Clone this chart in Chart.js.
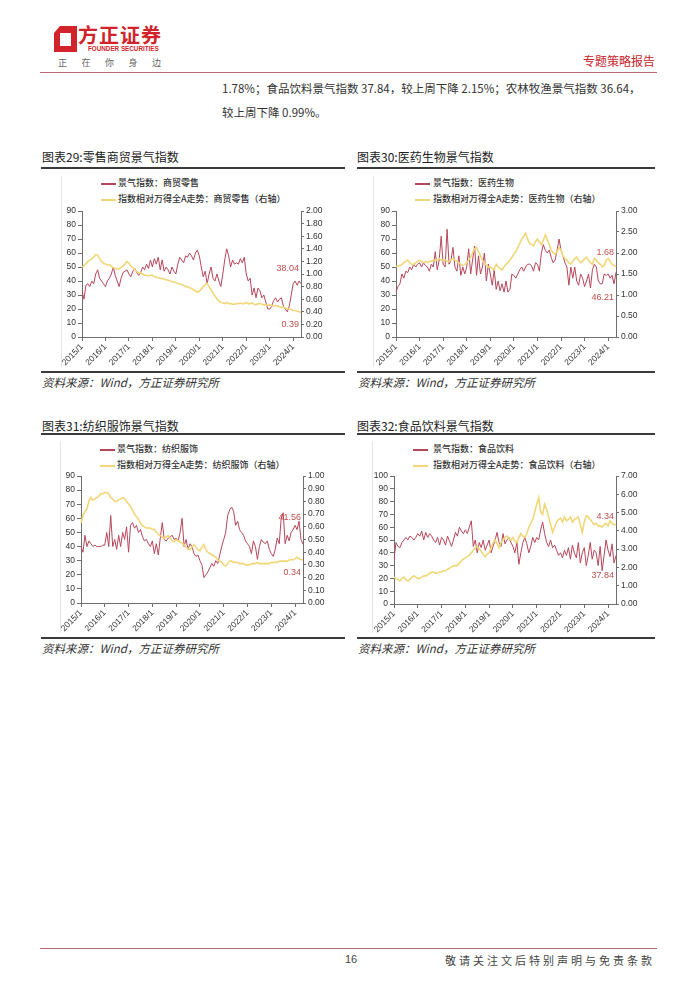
<!DOCTYPE html>
<html>
<head>
<meta charset="utf-8">
<script src="https://cdn.jsdelivr.net/npm/chart.js@4.4.1/dist/chart.umd.min.js"></script>
<style>
  body { margin:0; width:700px; height:990px; background:#fff; position:relative; overflow:hidden;
         font-family:"Noto Sans CJK SC","Noto Sans",sans-serif; color:#333; }
  .a { position:absolute; white-space:nowrap; }
  .hr { position:absolute; height:2px; background:#3a3a3a; }
  .title { font-size:12px; color:#222; line-height:16px; }
  .src { font-size:11.5px; font-style:italic; color:#333; line-height:16px; }
  .lg { font-size:9px; color:#333; line-height:12px; font-weight:500; }
  .lgline { position:absolute; width:15px; height:1.6px; }
  .vb { position:absolute; width:1px; background:#e4e4e4; }
  canvas { position:absolute; }
</style>
</head>
<body>

<!-- header -->
<svg class="a" style="left:54px;top:26px" width="24" height="27" viewBox="0 0 24 27">
  <path d="M6 0 H23 V26 H0 V7 Z" fill="#d2232a"/>
  <rect x="6" y="7" width="11" height="13" fill="#fff"/>
</svg>
<div class="a" style="left:78px;top:22px;font-size:20px;font-weight:700;color:#d2232a;letter-spacing:1px;line-height:26px">方正证券</div>
<div class="a" style="left:88px;top:45px;font-size:6.3px;font-weight:700;color:#d2232a;font-family:'Liberation Sans',Arial,sans-serif">FOUNDER SECURITIES</div>
<div class="a" style="left:58px;top:56px;font-size:9px;color:#666;letter-spacing:14.5px">正在你身边</div>
<div class="a" style="left:583px;top:52px;font-size:12px;color:#c8232c">专题策略报告</div>
<div class="a" style="left:40px;top:72px;width:617px;height:1px;background:#b86a74"></div>

<div class="a" style="left:222px;top:80px;font-size:11.5px;color:#333">1.78%；食品饮料景气指数 37.84，较上周下降 2.15%；农林牧渔景气指数 36.64，</div>
<div class="a" style="left:222px;top:104px;font-size:11.5px;color:#333">较上周下降 0.99%。</div>

<!-- panel 29 -->
<div class="a title" style="left:42px;top:149px">图表29:零售商贸景气指数</div>
<div class="hr" style="left:41px;top:167px;width:304px"></div>
<div class="vb" style="left:61px;top:176px;height:191px"></div>
<div class="lgline" style="left:101px;top:183px;background:#b6475b"></div>
<div class="a lg" style="left:118px;top:177px">景气指数：商贸零售</div>
<div class="lgline" style="left:101px;top:199px;background:#f1d779"></div>
<div class="a lg" style="left:118px;top:193px">指数相对万得全A走势：商贸零售（右轴）</div>
<canvas id="c29" width="303" height="167" style="left:42px;top:203px"></canvas>
<div class="hr" style="left:41px;top:371px;width:304px"></div>
<div class="a src" style="left:42px;top:374px">资料来源：Wind，方正证券研究所</div>

<!-- panel 30 -->
<div class="a title" style="left:357px;top:149px">图表30:医药生物景气指数</div>
<div class="hr" style="left:357px;top:167px;width:298px"></div>
<div class="vb" style="left:373px;top:176px;height:191px"></div>
<div class="lgline" style="left:415px;top:183px;background:#b6475b"></div>
<div class="a lg" style="left:433px;top:177px">景气指数：医药生物</div>
<div class="lgline" style="left:415px;top:199px;background:#f1d779"></div>
<div class="a lg" style="left:433px;top:193px">指数相对万得全A走势：医药生物（右轴）</div>
<canvas id="c30" width="298" height="167" style="left:357px;top:203px"></canvas>
<div class="hr" style="left:357px;top:371px;width:298px"></div>
<div class="a src" style="left:358px;top:374px">资料来源：Wind，方正证券研究所</div>

<!-- panel 31 -->
<div class="a title" style="left:42px;top:418px">图表31:纺织服饰景气指数</div>
<div class="hr" style="left:41px;top:433px;width:304px"></div>
<div class="vb" style="left:60px;top:441px;height:192px"></div>
<div class="lgline" style="left:100px;top:449px;background:#b6475b"></div>
<div class="a lg" style="left:117px;top:443px">景气指数：纺织服饰</div>
<div class="lgline" style="left:100px;top:465px;background:#f1d779"></div>
<div class="a lg" style="left:117px;top:459px">指数相对万得全A走势：纺织服饰（右轴）</div>
<canvas id="c31" width="303" height="167" style="left:42px;top:468px"></canvas>
<div class="hr" style="left:41px;top:637px;width:304px"></div>
<div class="a src" style="left:42px;top:640px">资料来源：Wind，方正证券研究所</div>

<!-- panel 32 -->
<div class="a title" style="left:357px;top:418px">图表32:食品饮料景气指数</div>
<div class="hr" style="left:357px;top:433px;width:298px"></div>
<div class="vb" style="left:372px;top:441px;height:192px"></div>
<div class="lgline" style="left:413px;top:449px;background:#b6475b"></div>
<div class="a lg" style="left:433px;top:443px">景气指数：食品饮料</div>
<div class="lgline" style="left:413px;top:465px;background:#f1d779"></div>
<div class="a lg" style="left:433px;top:459px">指数相对万得全A走势：食品饮料（右轴）</div>
<canvas id="c32" width="298" height="167" style="left:357px;top:468px"></canvas>
<div class="hr" style="left:357px;top:637px;width:298px"></div>
<div class="a src" style="left:358px;top:640px">资料来源：Wind，方正证券研究所</div>

<!-- footer -->
<div class="a" style="left:40px;top:948px;width:617px;height:1px;background:#b86a74"></div>
<div class="a" style="left:345px;top:953px;font-size:11px;color:#444;font-family:'Liberation Sans',Arial,sans-serif">16</div>
<div class="a" style="left:445px;top:952px;font-size:11px;color:#444;letter-spacing:3px">敬请关注文后特别声明与免责条款</div>

<script>
// monthly categories 2015/1 .. 2024/5
const months = [];
for (let y = 2015; y <= 2024; y++) {
  for (let m = 1; m <= 12; m++) {
    if (y < 2024 || m <= 5) months.push(y + '/' + m);
  }
}

// 零售商贸
const retailIdx = [
  33, 27, 37, 38, 36, 40, 38, 45, 48, 42, 40, 38,
  36, 40, 42, 45, 50, 44, 40, 36, 42, 46, 47, 48,
  45, 43, 47, 49, 46, 44, 46, 50, 48, 52, 49, 55,
  50, 56, 52, 57, 48, 55, 47, 50, 48, 45, 50, 47,
  45, 52, 57, 55, 53, 58, 57, 60, 58, 55, 60, 62,
  58, 50, 43, 47, 38, 45, 50, 42, 40, 45, 40, 36,
  45, 55, 63, 58, 50, 55, 52, 53, 52, 56, 53, 57,
  45, 40, 42, 30, 35, 28, 35, 33, 28, 30, 25, 20,
  20, 22, 26, 28, 25, 27, 28, 22, 20, 18, 22, 30,
  38, 40, 37, 40, 38.04
];
const retailRel = [
  1.11, 1.13, 1.16, 1.20, 1.22, 1.24, 1.27, 1.31, 1.30, 1.24, 1.20, 1.17,
  1.16, 1.14, 1.15, 1.12, 1.10, 1.09, 1.08, 1.08, 1.10, 1.13, 1.16, 1.20,
  1.17, 1.13, 1.10, 1.07, 1.04, 1.01, 1.02, 1.00, 0.98, 0.98, 0.97, 0.98,
  0.98, 0.96, 0.95, 0.94, 0.93, 0.93, 0.92, 0.91, 0.90, 0.89, 0.88, 0.87,
  0.87, 0.85, 0.84, 0.83, 0.82, 0.80, 0.80, 0.78, 0.77, 0.75, 0.73, 0.71,
  0.73, 0.76, 0.80, 0.83, 0.85, 0.80, 0.75, 0.70, 0.65, 0.61, 0.57, 0.55,
  0.54, 0.53, 0.55, 0.53, 0.53, 0.52, 0.52, 0.53, 0.53, 0.54, 0.53, 0.53,
  0.55, 0.53, 0.53, 0.54, 0.52, 0.51, 0.53, 0.53, 0.52, 0.51, 0.51, 0.50,
  0.51, 0.50, 0.49, 0.50, 0.49, 0.48, 0.47, 0.47, 0.46, 0.45, 0.44, 0.44,
  0.42, 0.42, 0.41, 0.40, 0.39
];

// 医药生物
const pharmaIdx = [
  32, 36, 38, 45, 42, 47, 46, 50, 48, 52, 50, 52,
  53, 50, 53, 51, 50, 47, 52, 50, 61, 48, 55, 72,
  52, 50, 77, 52, 55, 64, 50, 47, 58, 44, 50, 45,
  50, 63, 45, 55, 65, 44, 58, 45, 50, 60, 40, 52,
  45, 37, 48, 34, 40, 33, 38, 32, 40, 32, 34, 45,
  44, 42, 45, 48, 50, 47, 50, 52, 52, 51, 47, 53,
  52, 47, 60, 66, 62, 60, 62, 57, 53, 55, 62, 70,
  62, 58, 53, 50, 37, 50, 42, 50, 40, 37, 45, 42,
  36, 40, 45, 35, 48, 52, 50, 40, 38, 38, 45, 44,
  45, 42, 44, 38, 46.21
];
const pharmaRel = [
  1.67, 1.70, 1.70, 1.73, 1.77, 1.80, 1.83, 1.77, 1.73, 1.73, 1.77, 1.80,
  1.83, 1.80, 1.77, 1.80, 1.77, 1.80, 1.80, 1.83, 1.83, 1.83, 1.87, 1.83,
  1.83, 1.83, 1.80, 1.80, 1.83, 1.87, 1.83, 1.80, 1.77, 1.73, 1.70, 1.73,
  1.77, 1.83, 1.90, 2.00, 2.10, 2.13, 2.03, 1.93, 1.83, 1.77, 1.70, 1.67,
  1.67, 1.63, 1.60, 1.73, 1.67, 1.63, 1.60, 1.67, 1.73, 1.77, 1.83, 1.90,
  1.97, 2.03, 2.13, 2.23, 2.33, 2.40, 2.47, 2.33, 2.23, 2.20, 2.17, 2.27,
  2.33, 2.27, 2.20, 2.30, 2.43, 2.33, 2.20, 2.07, 2.00, 1.97, 2.03, 2.13,
  2.07, 1.93, 1.87, 1.83, 1.77, 1.73, 1.80, 1.87, 1.90, 1.83, 1.77, 1.80,
  1.87, 1.90, 1.83, 1.77, 1.73, 1.87, 1.83, 1.77, 1.73, 1.67, 1.70, 1.83,
  1.87, 1.80, 1.73, 1.70, 1.68
];

// 纺织服饰
const textileIdx = [
  40, 36, 48, 40, 44, 42, 40, 41, 40, 40, 40, 41,
  41, 50, 40, 62, 40, 45, 38, 48, 40, 50, 45, 54,
  36, 55, 57, 53, 55, 50, 52, 47, 44, 45, 42, 40,
  44, 35, 42, 34, 46, 57, 45, 44, 46, 47, 48, 45,
  46, 44, 50, 60, 40, 45, 38, 42, 40, 35, 33, 34,
  30, 27, 18, 20, 22, 25, 28, 26, 30, 28, 34, 40,
  45, 50, 62, 66, 68, 65, 55, 58, 52, 50, 48, 44,
  42, 40, 35, 44, 40, 31, 40, 45, 43, 42, 44, 38,
  35, 33, 38, 46, 42, 60, 64, 42, 48, 44, 50, 52,
  55, 52, 58, 45, 41.56
];
const textileRel = [
  0.63, 0.69, 0.72, 0.74, 0.80, 0.83, 0.81, 0.82, 0.83, 0.84, 0.86, 0.86,
  0.87, 0.87, 0.86, 0.83, 0.82, 0.80, 0.80, 0.81, 0.82, 0.83, 0.82, 0.80,
  0.78, 0.76, 0.73, 0.70, 0.68, 0.66, 0.63, 0.61, 0.60, 0.59, 0.59, 0.59,
  0.58, 0.58, 0.56, 0.54, 0.53, 0.52, 0.51, 0.52, 0.53, 0.51, 0.49, 0.48,
  0.50, 0.49, 0.48, 0.47, 0.46, 0.44, 0.43, 0.42, 0.44, 0.46, 0.44, 0.42,
  0.41, 0.44, 0.46, 0.42, 0.40, 0.39, 0.38, 0.37, 0.36, 0.34, 0.33, 0.32,
  0.30, 0.29, 0.31, 0.33, 0.33, 0.32, 0.32, 0.32, 0.31, 0.31, 0.31, 0.30,
  0.30, 0.30, 0.31, 0.31, 0.31, 0.32, 0.31, 0.31, 0.31, 0.31, 0.31, 0.31,
  0.32, 0.32, 0.32, 0.32, 0.33, 0.33, 0.33, 0.33, 0.33, 0.34, 0.34, 0.34,
  0.35, 0.36, 0.35, 0.34, 0.34
];

// 食品饮料
const foodIdx = [
  35, 48, 45, 44, 48, 50, 52, 50, 53, 52, 50, 52,
  55, 53, 57, 50, 56, 52, 55, 53, 50, 48, 52, 46,
  52, 50, 46, 53, 49, 45, 50, 56, 53, 60, 57, 55,
  58, 55, 60, 65, 45, 50, 40, 48, 44, 50, 42, 46,
  50, 40, 45, 50, 56, 48, 45, 55, 47, 50, 52, 48,
  45, 40, 48, 31, 40, 48, 52, 47, 40, 45, 52, 48,
  52, 50, 58, 64, 55, 48, 45, 50, 44, 46, 42, 38,
  40, 36, 42, 38, 44, 35, 46, 40, 36, 48, 32, 40,
  44, 30, 38, 48, 35, 42, 40, 30, 45, 26, 38, 50,
  42, 37, 47, 32, 37.84
];
const foodRel = [
  1.47, 1.40, 1.33, 1.26, 1.40, 1.47, 1.33, 1.26, 1.33, 1.47, 1.54, 1.47,
  1.40, 1.40, 1.47, 1.54, 1.54, 1.61, 1.68, 1.75, 1.75, 1.68, 1.68, 1.75,
  1.75, 1.82, 1.82, 1.89, 1.96, 2.03, 2.10, 2.10, 2.10, 2.24, 2.38, 2.45,
  2.52, 2.59, 2.66, 2.80, 2.94, 3.08, 3.15, 3.01, 2.87, 2.73, 2.59, 2.73,
  2.80, 3.08, 3.36, 3.50, 3.29, 3.08, 3.36, 3.50, 3.64, 3.71, 3.57, 3.50,
  3.64, 3.43, 3.36, 3.64, 3.85, 3.71, 3.64, 3.85, 4.20, 4.41, 4.62, 5.04,
  5.46, 5.81, 5.04, 4.90, 5.46, 5.18, 4.76, 4.34, 3.92, 4.20, 4.48, 4.62,
  4.69, 4.48, 4.76, 4.55, 4.62, 4.76, 4.48, 4.62, 4.69, 4.76, 4.34, 3.92,
  4.48, 4.83, 4.76, 4.62, 4.48, 4.34, 4.41, 4.27, 4.27, 4.20, 4.34, 4.41,
  4.27, 4.55, 4.41, 4.34, 4.34
];

const RED = '#b6475b';
const YELLOW = '#f1d779';
const TICK_FONT = { family: '"Liberation Sans", Arial, sans-serif', size: 8.5 };
const AXIS = '#6e6e6e';

// last-value labels next to the line ends
const endLabels = {
  id: 'endLabels',
  afterDatasetsDraw(chart, args, opts) {
    const ctx = chart.ctx;
    ctx.save();
    ctx.font = '9px "Liberation Sans", Arial, sans-serif';
    ctx.fillStyle = '#c0504d';
    ctx.textAlign = 'right';
    ctx.textBaseline = 'middle';
    opts.items.forEach((it) => {
      const meta = chart.getDatasetMeta(it.ds);
      const pt = meta.data[meta.data.length - 1];
      const vals = chart.data.datasets[it.ds].data;
      ctx.fillText(vals[vals.length - 1].toFixed(2), pt.x - 2, pt.y + it.dy);
    });
    ctx.restore();
  }
};

function isJan(i) {
  return months[i] && months[i].endsWith('/1');
}

function draw(p) {
  new Chart(document.getElementById(p.id), {
    type: 'line',
    data: {
      labels: months,
      datasets: [
        { data: p.red, yAxisID: 'y', borderColor: RED, borderWidth: 1, pointRadius: 0, order: 1 },
        { data: p.yellow, yAxisID: 'y1', borderColor: YELLOW, borderWidth: 1.6, pointRadius: 0, order: 0 }
      ]
    },
    options: {
      responsive: false,
      animation: false,
      devicePixelRatio: 1,
      layout: { padding: { top: p.padTop, left: 0, right: 0, bottom: 0 } },
      plugins: {
        legend: { display: false },
        tooltip: { enabled: false },
        endLabels: { items: p.labels }
      },
      scales: {
        x: {
          type: 'category',
          offset: false,
          afterFit: (s) => { s.height = p.bottomH; },
          border: { display: true, color: AXIS },
          grid: {
            drawOnChartArea: false, drawTicks: true, tickLength: 4,
            color: (c) => isJan(c.index) ? AXIS : 'rgba(0,0,0,0)'
          },
          ticks: {
            autoSkip: false, minRotation: 45, maxRotation: 45, padding: 1,
            color: '#333', font: TICK_FONT,
            callback: (v, i) => isJan(i) ? months[i] : ''
          }
        },
        y: {
          position: 'left', min: 0, max: p.leftMax,
          afterFit: (s) => { s.width = p.leftW; },
          border: { display: true, color: AXIS },
          grid: { drawOnChartArea: false, drawTicks: true, tickLength: 4, color: AXIS },
          ticks: { stepSize: p.leftStep, autoSkip: false, padding: 2, color: '#333', font: TICK_FONT }
        },
        y1: {
          position: 'right', min: 0, max: p.rightMax,
          afterFit: (s) => { s.width = p.rightW; },
          border: { display: true, color: AXIS },
          grid: { drawOnChartArea: false, drawTicks: true, tickLength: 3, color: AXIS },
          ticks: {
            stepSize: p.rightStep, autoSkip: false, padding: 2, color: '#333', font: TICK_FONT,
            callback: (v) => Number(v).toFixed(2)
          }
        }
      }
    },
    plugins: [endLabels]
  });
}

draw({ id: 'c29', red: retailIdx, yellow: retailRel, leftMax: 90, leftStep: 10, rightMax: 2, rightStep: 0.2,
       padTop: 8, leftW: 40, rightW: 44, bottomH: 33, labels: [{ ds: 0, dy: -15 }, { ds: 1, dy: 12 }] });
draw({ id: 'c30', red: pharmaIdx, yellow: pharmaRel, leftMax: 90, leftStep: 10, rightMax: 3, rightStep: 0.5,
       padTop: 8, leftW: 39, rightW: 39, bottomH: 33, labels: [{ ds: 1, dy: -14 }, { ds: 0, dy: 25 }] });
draw({ id: 'c31', red: textileIdx, yellow: textileRel, leftMax: 90, leftStep: 10, rightMax: 1, rightStep: 0.1,
       padTop: 8, leftW: 39, rightW: 42, bottomH: 32, labels: [{ ds: 0, dy: -27 }, { ds: 1, dy: 13 }] });
draw({ id: 'c32', red: foodIdx, yellow: foodRel, leftMax: 100, leftStep: 10, rightMax: 7, rightStep: 1,
       padTop: 8, leftW: 37, rightW: 39, bottomH: 31, labels: [{ ds: 1, dy: -8 }, { ds: 0, dy: 20 }] });
</script>
</body>
</html>
